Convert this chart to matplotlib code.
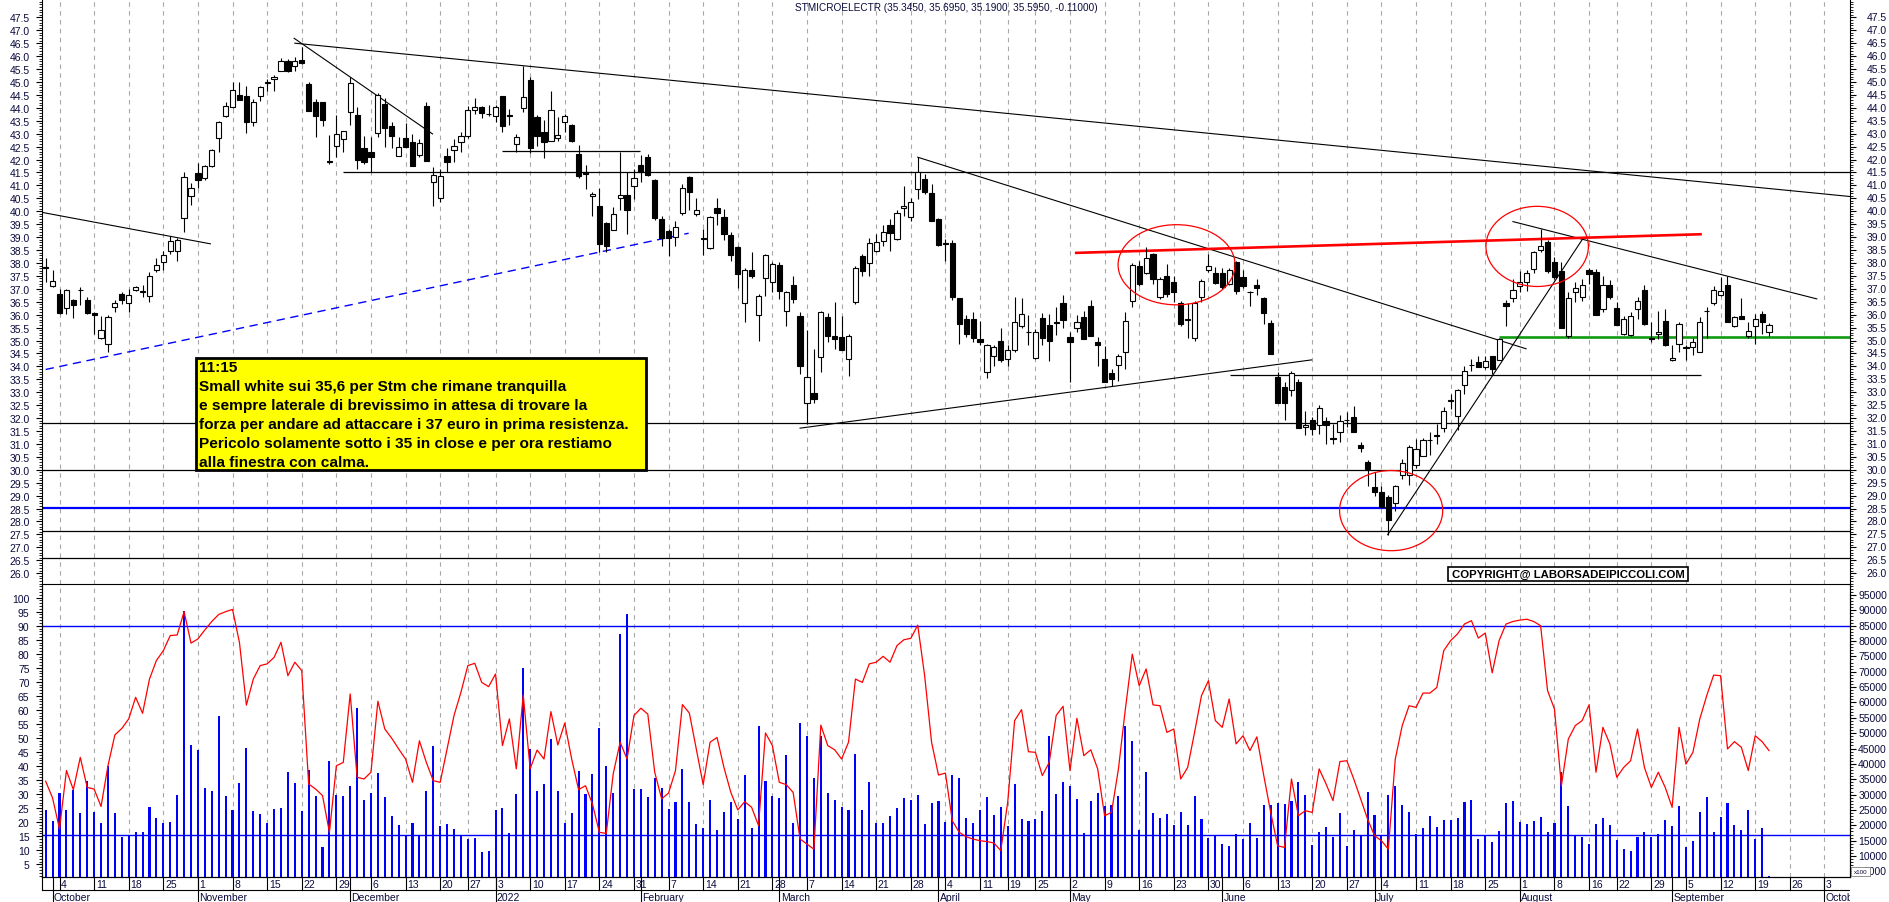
"""STMicroelectronics daily candles with volume and oscillator panel."""

import matplotlib

matplotlib.use("Agg")

import matplotlib.pyplot as plt
import numpy as np
import pandas as pd
from matplotlib.patches import Ellipse, Rectangle
from matplotlib.transforms import blended_transform_factory

plt.rcParams["font.family"] = ["Liberation Sans", "DejaVu Sans"]

# Trading calendar (Borsa Italiana closures)
closures = ["2021-12-24", "2021-12-31", "2022-04-15", "2022-04-18", "2022-08-15"]
sessions = pd.bdate_range("2021-09-30", "2022-10-31")
sessions = sessions[~sessions.isin(pd.to_datetime(closures))]

open_ = np.array([
    37.85, 37.10, 36.80, 36.25, 36.58, 36.95, 36.55, 36.05, 35.09, 34.87,
    36.29, 36.78, 36.46, 36.96, 36.88, 36.71, 37.74, 38.03, 38.45, 38.48,
    39.73, 40.58, 41.47, 41.28, 41.74, 42.82, 43.67, 44.02, 44.51, 44.47,
    43.44, 44.45, 44.97, 45.12, 45.41, 45.80, 45.61, 45.85, 44.92, 44.21,
    44.21, 41.95, 42.51, 42.80, 43.83, 43.72, 42.44, 42.28, 43.02, 44.15,
    43.29, 42.15, 42.82, 42.67, 42.18, 44.08, 41.12, 40.50, 42.13, 42.35,
    42.69, 42.93, 43.93, 44.02, 43.78, 43.67, 44.47, 43.72, 42.60, 43.98,
    45.08, 43.63, 43.08, 42.73, 42.82, 43.44, 43.35, 42.22, 41.51, 40.58,
    40.19, 39.55, 39.28, 40.53, 40.63, 40.97, 41.79, 42.09, 41.21, 39.70,
    39.23, 38.99, 39.92, 41.31, 39.90, 38.95, 38.57, 40.12, 39.77, 39.08,
    38.61, 36.46, 37.71, 35.99, 37.41, 37.28, 37.94, 36.16, 37.15, 35.95,
    32.59, 32.98, 34.36, 35.90, 35.17, 35.13, 34.29, 36.48, 38.25, 38.00,
    38.48, 38.83, 39.47, 38.93, 40.13, 39.77, 40.86, 41.25, 40.71, 39.70,
    38.76, 38.76, 36.64, 35.84, 35.84, 35.06, 33.80, 34.39, 35.00, 34.29,
    34.65, 35.58, 35.34, 34.32, 35.86, 35.60, 35.70, 36.46, 35.13, 35.48,
    35.90, 36.33, 34.96, 34.29, 33.75, 34.06, 34.55, 36.51, 37.90, 37.60,
    38.35, 36.70, 37.49, 37.26, 36.46, 35.83, 35.09, 36.68, 37.74, 37.62,
    37.62, 37.19, 38.03, 37.45, 36.89, 37.16, 36.64, 35.68, 33.58, 33.20,
    33.07, 33.39, 31.65, 31.94, 31.74, 31.87, 31.22, 31.48, 31.92, 32.03,
    30.94, 30.30, 29.33, 29.14, 28.94, 28.72, 29.80, 29.78, 30.17, 30.53,
    31.15, 31.30, 31.61, 32.66, 32.07, 33.26, 34.04, 34.16, 33.97, 34.39,
    34.23, 36.46, 36.64, 37.10, 37.26, 37.77, 38.52, 38.80, 38.03, 37.67,
    35.19, 36.89, 36.68, 37.71, 37.64, 36.20, 37.15, 36.25, 35.26, 35.22,
    36.22, 36.96, 35.09, 35.26, 35.77, 34.23, 34.87, 34.72, 34.74, 34.55,
    36.14, 36.46, 36.77, 37.15, 35.55, 35.94, 35.17, 35.55, 36.03, 35.345,
])
high = np.array([
    38.18, 37.71, 37.00, 37.00, 36.61, 37.06, 36.68, 36.10, 35.94, 35.99,
    36.55, 36.87, 37.00, 37.12, 37.15, 37.64, 38.18, 38.48, 39.03, 38.95,
    41.51, 41.10, 41.87, 41.77, 42.41, 43.50, 44.21, 44.99, 44.99, 44.83,
    44.34, 44.83, 45.12, 45.27, 45.91, 45.89, 45.95, 46.34, 44.99, 44.34,
    44.21, 42.95, 43.72, 43.12, 45.18, 44.02, 42.90, 42.86, 44.58, 44.37,
    43.44, 42.86, 43.41, 43.00, 42.80, 44.21, 41.70, 41.64, 42.44, 42.80,
    43.05, 44.06, 44.37, 44.06, 44.10, 44.10, 44.47, 43.96, 42.99, 45.63,
    45.18, 43.72, 43.54, 44.64, 43.63, 43.76, 43.38, 42.56, 41.79, 40.76,
    40.89, 39.60, 40.15, 42.31, 41.51, 41.64, 42.16, 42.22, 41.25, 39.83,
    39.32, 39.64, 41.06, 41.38, 40.50, 39.32, 39.83, 40.50, 40.09, 39.18,
    38.67, 37.80, 38.41, 36.80, 38.35, 38.03, 38.03, 36.93, 37.51, 36.10,
    35.39, 34.68, 36.16, 36.07, 36.48, 35.94, 35.26, 37.90, 38.35, 38.96,
    39.12, 39.45, 39.70, 40.03, 40.99, 40.50, 42.09, 41.44, 41.06, 39.73,
    38.93, 38.90, 36.64, 36.00, 36.10, 35.77, 34.87, 34.83, 35.48, 34.81,
    36.68, 36.64, 35.97, 35.45, 36.07, 36.03, 36.30, 36.77, 35.32, 35.99,
    36.16, 36.55, 35.13, 34.77, 33.88, 34.48, 36.10, 37.99, 38.09, 38.61,
    38.39, 37.45, 37.96, 37.51, 36.51, 36.46, 36.51, 37.39, 38.35, 37.84,
    37.80, 37.80, 38.06, 37.74, 36.93, 37.38, 36.67, 35.81, 33.80, 33.39,
    33.84, 33.52, 32.29, 32.03, 32.49, 32.03, 31.78, 32.13, 32.23, 32.46,
    31.09, 30.36, 29.91, 29.39, 29.01, 29.42, 30.40, 30.94, 31.20, 31.22,
    31.45, 31.78, 32.42, 32.95, 33.13, 34.01, 34.29, 34.39, 34.39, 34.42,
    35.09, 36.55, 37.38, 37.70, 37.71, 38.48, 39.32, 38.87, 38.22, 38.03,
    36.87, 37.28, 37.38, 37.80, 37.77, 37.48, 37.35, 36.48, 35.94, 36.10,
    36.67, 37.15, 35.73, 36.16, 36.22, 34.83, 35.71, 34.81, 35.09, 35.90,
    36.29, 37.10, 37.45, 37.51, 35.94, 36.64, 35.73, 36.03, 36.16, 35.695,
])
low = np.array([
    37.25, 37.06, 36.04, 36.03, 35.86, 36.38, 36.03, 35.26, 35.07, 34.55,
    36.12, 36.42, 36.10, 36.90, 36.68, 36.48, 37.64, 37.71, 38.35, 38.09,
    39.21, 40.26, 40.90, 41.19, 41.70, 42.28, 43.63, 43.98, 44.32, 43.03,
    43.31, 44.28, 44.66, 44.66, 45.41, 45.37, 45.44, 45.70, 43.89, 42.86,
    43.31, 41.83, 42.09, 42.31, 43.34, 41.64, 41.83, 41.51, 42.86, 42.47,
    42.44, 42.15, 42.47, 41.74, 42.09, 41.96, 40.22, 40.35, 41.53, 41.92,
    42.28, 42.82, 43.76, 43.60, 43.70, 43.47, 43.05, 43.34, 42.28, 43.85,
    42.26, 42.54, 42.05, 42.73, 42.73, 43.05, 42.69, 41.29, 40.86, 39.81,
    38.44, 38.41, 39.28, 40.06, 39.12, 40.48, 41.12, 41.38, 39.68, 38.65,
    38.26, 38.65, 39.86, 40.03, 39.81, 38.29, 38.55, 39.47, 38.90, 38.09,
    37.02, 35.73, 37.41, 35.00, 36.74, 36.89, 36.61, 35.58, 36.46, 33.71,
    31.78, 32.59, 33.80, 34.93, 34.68, 34.65, 33.62, 36.42, 37.49, 37.49,
    38.41, 38.65, 38.48, 38.90, 39.80, 39.64, 40.48, 40.67, 39.64, 38.67,
    38.09, 36.55, 34.87, 35.13, 34.93, 34.81, 33.56, 34.03, 34.16, 34.03,
    34.55, 35.48, 34.81, 34.29, 34.81, 34.19, 35.20, 35.48, 33.41, 35.32,
    35.04, 35.17, 34.03, 33.41, 33.23, 33.45, 33.90, 36.29, 37.10, 37.58,
    37.19, 36.61, 36.67, 36.50, 35.55, 35.09, 35.00, 36.48, 37.64, 37.19,
    37.00, 37.15, 36.80, 37.02, 36.35, 36.77, 35.64, 34.48, 32.59, 31.94,
    32.85, 31.61, 31.33, 31.33, 31.39, 31.00, 31.00, 31.07, 31.65, 31.48,
    30.68, 29.37, 28.98, 28.56, 27.46, 28.39, 29.65, 29.42, 30.07, 30.53,
    30.58, 31.00, 31.48, 32.35, 31.52, 32.94, 33.84, 33.97, 33.90, 33.71,
    34.23, 35.58, 36.48, 36.87, 36.90, 37.62, 38.44, 37.62, 37.36, 35.48,
    35.09, 36.48, 36.51, 37.19, 35.99, 36.10, 36.61, 35.60, 35.22, 35.19,
    35.84, 35.60, 34.93, 35.06, 34.78, 34.19, 34.55, 34.23, 34.45, 34.55,
    35.09, 36.38, 36.74, 35.71, 35.51, 35.84, 35.09, 34.87, 35.26, 35.19,
])
close = np.array([
    37.80, 37.32, 36.06, 36.97, 36.38, 36.97, 36.06, 36.00, 35.39, 35.90,
    36.45, 36.58, 36.77, 37.06, 36.90, 37.49, 37.94, 38.29, 38.83, 38.87,
    41.34, 40.90, 41.19, 41.74, 42.38, 43.44, 44.08, 44.70, 44.32, 43.44,
    44.24, 44.79, 44.99, 45.18, 45.80, 45.44, 45.80, 45.72, 43.89, 43.70,
    43.54, 41.92, 42.99, 43.12, 44.95, 41.99, 41.92, 42.09, 44.50, 43.21,
    42.93, 42.47, 42.47, 41.74, 42.63, 41.96, 41.40, 41.38, 41.90, 42.54,
    42.93, 43.93, 44.03, 43.80, 43.76, 44.02, 43.29, 43.70, 42.86, 44.41,
    42.44, 42.90, 42.67, 43.93, 42.96, 43.67, 42.71, 41.38, 41.44, 40.67,
    38.74, 38.67, 39.90, 40.63, 40.03, 41.28, 41.51, 41.40, 39.73, 38.96,
    38.96, 39.38, 40.89, 40.73, 40.03, 38.93, 39.77, 39.92, 39.12, 38.29,
    37.58, 37.74, 37.51, 36.74, 38.29, 37.96, 36.93, 36.87, 36.61, 34.03,
    33.58, 32.74, 36.12, 35.17, 35.04, 34.65, 35.17, 37.80, 37.67, 38.76,
    38.80, 39.19, 39.15, 39.94, 40.22, 40.35, 41.51, 40.76, 39.64, 38.70,
    38.74, 36.68, 35.64, 35.26, 35.09, 34.93, 34.83, 34.74, 34.23, 34.64,
    35.73, 36.03, 35.32, 35.32, 35.09, 35.00, 35.68, 35.81, 34.93, 35.73,
    35.04, 35.17, 34.81, 33.41, 33.52, 34.39, 35.77, 37.94, 37.19, 38.18,
    37.38, 37.36, 36.80, 36.89, 35.62, 35.81, 36.46, 37.30, 37.87, 37.22,
    37.06, 37.74, 36.93, 37.10, 36.87, 37.02, 36.06, 34.48, 32.59, 32.59,
    33.75, 31.61, 31.74, 31.56, 32.38, 31.74, 31.20, 31.87, 31.94, 31.48,
    30.84, 30.04, 29.14, 28.56, 28.04, 29.39, 30.26, 30.87, 30.81, 31.17,
    31.17, 31.33, 32.29, 32.68, 33.10, 33.84, 34.06, 33.97, 34.20, 33.90,
    35.04, 36.33, 36.97, 37.28, 37.62, 38.44, 38.65, 37.67, 37.45, 35.48,
    36.64, 37.02, 37.15, 37.58, 35.99, 37.15, 36.68, 35.60, 35.84, 35.94,
    36.51, 35.64, 35.04, 35.32, 34.81, 34.32, 35.64, 34.74, 34.93, 35.71,
    36.16, 36.97, 36.93, 35.71, 35.90, 35.84, 35.36, 35.84, 35.73, 35.595,
])
volume = np.array([
    25100, 21300, 30500, 25100, 31600, 24000, 34400, 24200, 20700, 39400,
    24000, 16100, 16500, 17700, 17700, 25900, 22500, 20800, 21200, 29900,
    89700, 46200, 44600, 32200, 31300, 55700, 29400, 25100, 33700, 45200,
    24600, 23600, 20700, 25300, 25600, 37500, 33700, 24600, 38000, 29400,
    12900, 40900, 29900, 29400, 32900, 58200, 28300, 30500, 36900, 29200,
    23100, 20200, 16600, 20700, 16600, 31100, 45700, 19900, 20300, 18800,
    16600, 15400, 15800, 11300, 11500, 25100, 25600, 17400, 30200, 71100,
    44900, 31100, 33500, 48100, 31100, 20700, 24100, 37600, 30200, 36800,
    51700, 39200, 30500, 82300, 88900, 31800, 31800, 29200, 35300, 32100,
    25300, 27700, 38300, 27500, 20500, 19100, 28300, 18500, 24500, 27500,
    22000, 36500, 19000, 52300, 34500, 29400, 28900, 42900, 20800, 53200,
    49200, 35400, 49200, 30500, 28300, 26100, 25000, 43200, 25100, 34000,
    20800, 20800, 23100, 25700, 28800, 28300, 30000, 20500, 27200, 27800,
    21000, 36400, 35300, 22300, 20700, 25100, 29200, 23500, 25900, 19700,
    33500, 22000, 21300, 22000, 24800, 49000, 30200, 34000, 32700, 28600,
    17400, 27800, 30500, 26400, 26600, 29400, 52300, 47500, 18600, 37300,
    24100, 22300, 23700, 20100, 24500, 20100, 29400, 22000, 15800, 16500,
    13900, 13200, 17200, 15600, 20800, 15900, 26600, 26600, 27300, 27000,
    27800, 34200, 29900, 13700, 17700, 19400, 16100, 23900, 13200, 18500,
    16600, 30800, 23500, 16600, 30000, 32700, 26600, 24200, 17200, 19100,
    23200, 19400, 21800, 21900, 22400, 27700, 28300, 15600, 16600, 14700,
    18100, 27200, 28000, 21000, 20400, 21300, 22600, 17700, 20800, 37300,
    26400, 16600, 16100, 13900, 20400, 22300, 20100, 15200, 12300, 11700,
    16300, 17700, 16300, 17200, 21800, 19900, 26200, 13100, 15000, 24500,
    29100, 17700, 22600, 27300, 20200, 18500, 25000, 15600, 19100, 3500,
])
oscillator = np.array([
    34.6, 28.6, 17.6, 38.4, 31.6, 43.1, 32.4, 31.8, 25.6, 40.1,
    51.1, 53.4, 56.8, 64.5, 58.8, 71.0, 77.6, 81.1, 86.5, 86.7,
    95.0, 83.8, 85.3, 88.5, 91.5, 94.0, 95.0, 95.8, 84.0, 61.7,
    71.0, 75.8, 76.4, 78.7, 84.1, 72.2, 77.0, 74.0, 33.6, 31.8,
    29.5, 16.4, 40.1, 41.3, 65.7, 36.0, 35.4, 37.8, 63.1, 53.2,
    49.9, 46.1, 42.5, 34.2, 49.0, 41.3, 34.8, 34.2, 46.1, 58.0,
    66.3, 75.8, 76.6, 69.8, 68.3, 72.8, 47.3, 56.8, 39.0, 65.3,
    39.0, 45.7, 42.5, 59.4, 47.5, 55.3, 42.5, 31.6, 33.0, 26.5,
    16.4, 16.0, 37.2, 48.5, 42.5, 58.0, 60.6, 58.5, 37.8, 28.3,
    30.4, 38.4, 61.9, 58.9, 46.1, 33.4, 48.5, 50.2, 39.5, 30.6,
    24.4, 27.3, 25.3, 18.8, 51.8, 47.3, 34.2, 33.4, 30.6, 14.0,
    12.2, 10.4, 54.6, 47.3, 45.8, 42.5, 48.5, 71.0, 69.8, 76.4,
    77.0, 79.1, 77.0, 82.9, 85.0, 85.5, 90.2, 72.2, 48.5, 36.8,
    37.5, 20.5, 16.4, 14.8, 14.0, 13.4, 13.1, 12.6, 9.9, 27.1,
    56.2, 60.1, 45.1, 44.9, 36.6, 41.3, 58.0, 61.3, 38.4, 57.0,
    43.7, 45.8, 39.0, 22.3, 23.5, 39.0, 60.3, 79.9, 68.6, 74.6,
    61.8, 61.5, 52.0, 53.2, 35.4, 39.5, 52.0, 65.1, 70.4, 56.2,
    53.8, 63.9, 47.9, 50.8, 45.5, 50.4, 36.6, 23.5, 11.6, 11.0,
    35.4, 22.3, 24.1, 23.5, 39.0, 33.6, 27.7, 41.6, 41.9, 35.4,
    28.3, 21.1, 15.2, 13.4, 10.4, 42.5, 54.4, 61.5, 60.9, 66.0,
    66.0, 68.0, 81.1, 84.7, 87.1, 90.6, 91.8, 85.6, 87.4, 73.2,
    84.7, 90.6, 91.5, 92.0, 92.3, 91.5, 90.0, 66.9, 60.3, 33.0,
    49.6, 54.4, 56.2, 61.8, 37.8, 53.8, 47.9, 36.0, 39.5, 41.9,
    53.2, 39.5, 32.4, 37.8, 32.4, 25.3, 53.8, 40.7, 44.9, 56.8,
    65.1, 72.4, 72.2, 46.1, 48.7, 46.7, 38.4, 50.8, 48.7, 45.5,
])

title = "STMICROELECTR (35.3450, 35.6950, 35.1900, 35.5950, -0.11000)"
note_lines = [
    "11:15",
    "Small white sui 35,6 per Stm che rimane tranquilla",
    "e sempre laterale di brevissimo in attesa di trovare la",
    "forza per andare ad attaccare i 37 euro in prima resistenza.",
    "Pericolo solamente sotto i 35 in close e per ora restiamo",
    "alla finestra con calma.",
]
copyright_text = "COPYRIGHT@ LABORSADEIPICCOLI.COM"

# Drawn levels and trendlines as (session index, price)
full_levels = [31.8, 30.0, 27.62, 26.58]
blue_level = 28.52
partial_levels = [(41.52, 43.0, 261.0), (42.32, 65.9, 85.9), (33.68, 171.1, 239.1)]
green_level = (35.12, 210.0, 261.0)
red_resistance = [(148.9, 38.39), (239.1, 39.11)]
blue_trend = [(0.0, 33.88), (92.9, 39.15)]
trendlines = [
    [(36.0, 46.50), (260.7, 40.57)],
    [(35.9, 46.69), (55.9, 42.99)],
    [(-0.6, 39.96), (23.8, 38.74)],
    [(126.0, 42.09), (213.9, 34.68)],
    [(109.0, 31.61), (182.9, 34.25)],
    [(193.9, 27.49), (222.1, 38.94)],
    [(212.0, 39.60), (255.9, 36.61)],
]
circles = [((163.4, 37.93), 16.9, 3.1), ((215.5, 38.64), 14.8, 3.1), ((194.4, 28.42), 14.9, 3.1)]
osc_levels = [90.0, 15.4]

# --- layout helpers -------------------------------------------------------
W, H = 1890, 903
TXT = "#0a0a3c"


def px_box(x0, y0, x1, y1):
    """Pixel rectangle (top-left origin) to a figure-fraction box."""
    return [x0 / W, 1 - y1 / H, (x1 - x0) / W, (y1 - y0) / H]


fig = plt.figure(figsize=(W / 100, H / 100), dpi=100)
ax = fig.add_axes(px_box(42, 0, 1850, 585.3))
ax2 = fig.add_axes(px_box(42, 585.3, 1850, 878), sharex=ax)
axv = ax2.twinx()
axx = fig.add_axes(px_box(42, 878, 1850, 903), sharex=ax)

n = len(close)
x = np.arange(n)
days = sessions[:262]
ax.set_xlim(-0.53, 260.7)

week_starts = [i for i in range(1, len(days))
               if days[i].isocalendar().week != days[i - 1].isocalendar().week]
month_starts = [i for i in range(1, len(days)) if days[i].month != days[i - 1].month]

# --- price panel ------------------------------------------------------------
ax.set_ylim(25.57, 48.21)
for i in week_starts:
    ax.axvline(i, color="#a8a8a8", lw=0.8, ls=(0, (4, 4)), zorder=0)
    axv.axvline(i, color="#a8a8a8", lw=0.8, ls=(0, (4, 4)), zorder=0)

for y in full_levels:
    ax.axhline(y, color="black", lw=0.9, zorder=1)
ax.axhline(blue_level, color="#0000ff", lw=1.6, zorder=1)
for y, x0, x1 in partial_levels:
    ax.hlines(y, x0, x1, color="black", lw=0.9, zorder=1)
ax.hlines(green_level[0], green_level[1], green_level[2], color="#109a10", lw=1.9, zorder=2)
for (xa, ya), (xb, yb) in trendlines:
    ax.plot([xa, xb], [ya, yb], color="black", lw=0.8, zorder=2)
ax.plot(*zip(*blue_trend), color="#0000ff", lw=1.0, dashes=(6, 4), zorder=2)
ax.plot(*zip(*red_resistance), color="#ff0000", lw=1.9, zorder=2)

up = close >= open_
ax.vlines(x, low, high, color="black", lw=0.8, zorder=3)
ax.bar(x, np.maximum(np.abs(close - open_), 0.004), bottom=np.minimum(open_, close),
       width=0.75, color=np.where(up, "white", "black"), edgecolor="black",
       linewidth=0.8, zorder=4)

for (cx, cy), w, h in circles:
    ax.add_patch(Ellipse((cx, cy), w, h, fill=False, edgecolor="#ff0000", lw=0.9, zorder=5))

price_major = np.arange(26.0, 47.51, 0.5)
ax.set_yticks(price_major)
ax.set_yticks(np.arange(25.6, 48.21, 0.1), minor=True)
ax.set_yticklabels([f"{v:.1f}" for v in price_major])
ax.tick_params(axis="y", which="major", length=4, width=0.8, labelsize=7.5,
               labelcolor=TXT, pad=5, right=True)
ax.tick_params(axis="y", which="minor", length=2, width=0.6, right=True)
right_tr = blended_transform_factory(ax.transAxes, ax.transData)
for v in price_major:
    ax.text(1 + 37 / 1808, v, f"{v:.1f}", transform=right_tr, ha="right",
            va="center", fontsize=7.5, color=TXT)
ax.spines["top"].set_visible(False)
ax.tick_params(axis="x", bottom=False, labelbottom=False)

# --- volume / oscillator panel ---------------------------------------------
ax2.set_ylim(0.48, 104.75)
axv.set_ylim(3190, 98460)
axv.set_zorder(ax2.get_zorder() - 1)
ax2.patch.set_visible(False)
axv.bar(x, volume, width=0.3, color="#0000ff", zorder=2)
for y in osc_levels:
    ax2.axhline(y, color="#0000ff", lw=1.0, zorder=2)
ax2.plot(x, oscillator, color="#ff0000", lw=0.9, zorder=3)

ax2.set_yticks(np.arange(5, 101, 5))
ax2.set_yticks(np.arange(1, 105, 1), minor=True)
ax2.tick_params(axis="y", which="major", length=4, width=0.8, labelsize=7.5,
                labelcolor=TXT, pad=5)
ax2.tick_params(axis="y", which="minor", length=2, width=0.6)
ax2.tick_params(axis="x", bottom=False, labelbottom=False)
vol_major = np.arange(5000, 95001, 5000)
axv.set_yticks(vol_major)
axv.set_yticks(np.arange(4000, 98001, 1000), minor=True)
axv.set_yticklabels([])
axv.tick_params(axis="y", which="major", length=4, width=0.8)
axv.tick_params(axis="y", which="minor", length=2, width=0.6)
vol_tr = blended_transform_factory(axv.transAxes, axv.transData)
for v in vol_major:
    axv.text(1 + 37 / 1808, v, f"{v}", transform=vol_tr, ha="right", va="center",
             fontsize=7.5, color=TXT)
for a in (ax2, axv):
    a.spines["top"].set_visible(False)

# --- date strip -------------------------------------------------------------
axx.set_ylim(0, 1)
axx.axis("off")
strip_tr = blended_transform_factory(axx.transData, axx.transAxes)
axx.axhline(0.48, color="black", lw=0.8)
axx.plot([-0.53, -0.53], [0.48, 1], color="black", lw=0.8, clip_on=False)
for i in week_starts:
    axx.plot([i, i], [0.48, 1], color="black", lw=0.8)
    axx.text(i + 0.25, 0.72, str(days[i].day), transform=strip_tr, ha="left",
             va="center", fontsize=7.5, color=TXT, clip_on=True)
for i in month_starts:
    axx.plot([i, i], [0, 1], color="black", lw=0.8)
    label = str(days[i].year) if days[i].month == 1 else days[i].strftime("%B")
    axx.text(i + 0.2, 0.2, label, transform=strip_tr, ha="left", va="center",
             fontsize=7.5, color=TXT, clip_on=True)

# --- annotations ------------------------------------------------------------
fig.text(795 / W, 1 - 8 / H, title, fontsize=7.2, color=TXT, va="center", ha="left")

fig.add_artist(Rectangle((196 / W, 1 - 471 / H), 450 / W, 112 / H, transform=fig.transFigure,
                         facecolor="#ffff00", edgecolor="black", lw=2, zorder=10))
for k, line in enumerate(note_lines):
    fig.text(199 / W, 1 - (368 + 19 * k) / H, line, fontsize=11.1, fontweight="bold",
             color="black", va="center", ha="left", zorder=11)

fig.add_artist(Rectangle((1447.7 / W, 1 - 581.7 / H), 240.6 / W, 14 / H,
                         transform=fig.transFigure, facecolor="white",
                         edgecolor="black", lw=1.2, zorder=10))
fig.text(1568 / W, 1 - 574.7 / H, copyright_text, fontsize=8.2, fontweight="bold",
         color="black", va="center", ha="center", zorder=11)

fig.add_artist(Rectangle((1850.6 / W, 1 - 876.7 / H), 19.4 / W, 8.4 / H,
                         transform=fig.transFigure, facecolor="white",
                         edgecolor="#808080", lw=0.6, zorder=10))
fig.text(1860.3 / W, 1 - 872.5 / H, "x100", fontsize=4.5, color=TXT,
         va="center", ha="center", zorder=11)

fig.savefig("out.png", dpi=100)
